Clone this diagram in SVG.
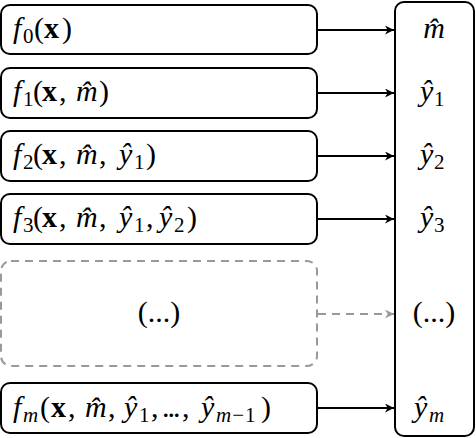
<svg xmlns="http://www.w3.org/2000/svg" width="476" height="438" viewBox="0 0 476 438">
<defs>
<style>
.box{fill:#fff;stroke:#000;stroke-width:2}
.dbox{fill:#fff;stroke:#999;stroke-width:2;stroke-dasharray:8,6}
text{font-family:'Liberation Serif','Times New Roman',serif;font-size:30px;fill:#000}
.it{font-style:italic}
.b{font-weight:bold}
.sub{font-size:21px}
.dots{letter-spacing:-2px}
.wide{letter-spacing:1px}
.edge{stroke:#000;stroke-width:1.8;fill:none}
.dedge{stroke:#999;stroke-width:1.8;fill:none;stroke-dasharray:8,6}
</style>
<marker id="ah" viewBox="0 0 10 10" refX="10" refY="5" markerWidth="9" markerHeight="9" markerUnits="userSpaceOnUse" orient="auto">
<path d="M0,0 L10,5 L0,10 L3,5 Z" fill="#000"/>
</marker>
<marker id="ahg" viewBox="0 0 10 10" refX="10" refY="5" markerWidth="9" markerHeight="9" markerUnits="userSpaceOnUse" orient="auto">
<path d="M0,0 L10,5 L0,10 L3,5 Z" fill="#999"/>
</marker>
</defs>
<g id="outputs">
<rect class="box" x="395" y="2" width="79" height="434" rx="9"/>
<text class="it" x="434" y="38" text-anchor="middle">m̂</text>
<text><tspan class="it" x="420" y="101">ŷ</tspan><tspan class="sub" x="434" y="106">1</tspan></text>
<text><tspan class="it" x="420" y="164">ŷ</tspan><tspan class="sub" x="434" y="169">2</tspan></text>
<text><tspan class="it" x="420" y="227">ŷ</tspan><tspan class="sub" x="434" y="232">3</tspan></text>
<text x="434" y="322" text-anchor="middle">(...)</text>
<text><tspan class="it" x="414" y="417">ŷ</tspan><tspan class="sub it" x="429" y="422">m</tspan></text>
</g>
<g id="f0">
<rect class="box" x="1" y="5" width="316" height="49" rx="9"/>
<text y="38"><tspan class="it" x="13">f</tspan><tspan class="sub" x="23" y="43">0</tspan><tspan x="34" y="38">(</tspan><tspan class="b" x="44">x</tspan><tspan x="62">)</tspan></text>
</g>
<g id="f1">
<rect class="box" x="1" y="68" width="316" height="50" rx="9"/>
<text y="101"><tspan class="it" x="13">f</tspan><tspan class="sub" x="23" y="106">1</tspan><tspan x="33" y="101">(</tspan><tspan class="b" x="42">x</tspan><tspan x="59">,</tspan><tspan class="it" x="76">m̂</tspan><tspan x="99">)</tspan></text>
</g>
<g id="f2">
<rect class="box" x="1" y="131" width="316" height="50" rx="9"/>
<text y="164"><tspan class="it" x="13">f</tspan><tspan class="sub" x="23" y="169">2</tspan><tspan x="33" y="164">(</tspan><tspan class="b" x="42">x</tspan><tspan x="59">,</tspan><tspan class="it" x="76">m̂</tspan><tspan x="99">,</tspan><tspan class="it" x="119">ŷ</tspan><tspan class="sub" x="134" y="169">1</tspan><tspan x="146" y="164">)</tspan></text>
</g>
<g id="f3">
<rect class="box" x="1" y="194" width="316" height="50" rx="9"/>
<text y="227"><tspan class="it" x="13">f</tspan><tspan class="sub" x="23" y="232">3</tspan><tspan x="33" y="227">(</tspan><tspan class="b" x="42">x</tspan><tspan x="59">,</tspan><tspan class="it" x="76">m̂</tspan><tspan x="99">,</tspan><tspan class="it" x="119">ŷ</tspan><tspan class="sub" x="134" y="232">1</tspan><tspan x="146" y="227">,</tspan><tspan class="it" x="159">ŷ</tspan><tspan class="sub" x="174" y="232">2</tspan><tspan x="187" y="227">)</tspan></text>
</g>
<g id="fdots">
<rect class="dbox" x="1" y="261" width="316" height="105" rx="10"/>
<text x="159" y="322" text-anchor="middle">(...)</text>
</g>
<g id="fm">
<rect class="box" x="1" y="383" width="316" height="50" rx="9"/>
<text y="417"><tspan class="it" x="13">f</tspan><tspan class="sub it" x="23" y="422">m</tspan><tspan x="40" y="417">(</tspan><tspan class="b" x="51">x</tspan><tspan x="68">,</tspan><tspan class="it" x="85">m̂</tspan><tspan x="108">,</tspan><tspan class="it" x="124">ŷ</tspan><tspan class="sub" x="139" y="422">1</tspan><tspan x="151" y="417">,</tspan><tspan class="dots" x="162">...</tspan><tspan x="182">,</tspan><tspan class="it" x="201">ŷ</tspan><tspan class="sub wide" x="216" y="422"><tspan class="it">m</tspan>−1</tspan><tspan x="261" y="417">)</tspan></text>
</g>
<g id="connectors">
<line class="edge" x1="318" y1="30" x2="394" y2="30" marker-end="url(#ah)"/>
<line class="edge" x1="318" y1="93" x2="394" y2="93" marker-end="url(#ah)"/>
<line class="edge" x1="318" y1="156" x2="394" y2="156" marker-end="url(#ah)"/>
<line class="edge" x1="318" y1="219" x2="394" y2="219" marker-end="url(#ah)"/>
<line class="dedge" x1="318" y1="314" x2="394" y2="314" marker-end="url(#ahg)"/>
<line class="edge" x1="318" y1="408" x2="394" y2="408" marker-end="url(#ah)"/>
</g>
</svg>
